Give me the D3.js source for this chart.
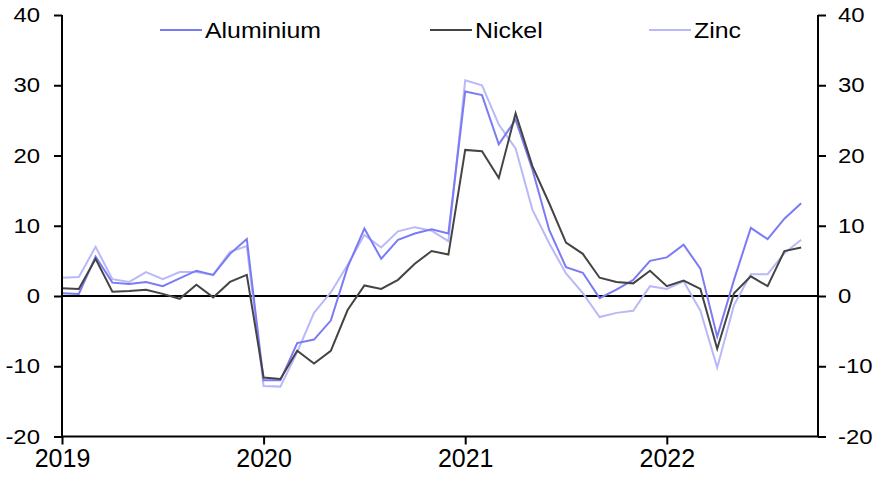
<!DOCTYPE html>
<html>
<head>
<meta charset="utf-8">
<script src="https://cdn.jsdelivr.net/npm/d3@7"></script>
<style>
  html, body { margin: 0; padding: 0; background: #fff; }
  text { font-family: "Liberation Sans", Arial, sans-serif; fill: #000; }
</style>
</head>
<body>
<svg id="chart" width="878" height="481"></svg>
<script>
// Monthly data, Jan 2019 .. Sep 2022 (% y/y)
const months = d3.range(45); // index 0 = Jan 2019
const aluminium = [0.4, 0.3, 5.6, 1.9, 1.7, 2.0, 1.4, 2.5, 3.6, 3.0, 6.0, 8.1,
  -12.0, -12.0, -6.7, -6.2, -3.5, 4.1, 9.6, 5.3, 8.0, 8.9, 9.5, 8.9,
  29.1, 28.6, 21.6, 25.1, 18.0, 9.4, 4.1, 3.3, -0.3, 0.9, 2.3, 5.0,
  5.5, 7.3, 3.9, -5.8, 2.3, 9.7, 8.1, 11.0, 13.2];
const nickel = [1.1, 1.0, 5.3, 0.6, 0.7, 0.9, 0.3, -0.4, 1.6, -0.2, 2.0, 3.0,
  -11.6, -11.8, -7.8, -9.6, -7.8, -2.0, 1.5, 1.0, 2.3, 4.6, 6.4, 5.9,
  20.8, 20.6, 16.8, 26.0, 18.5, 13.2, 7.6, 6.0, 2.6, 2.0, 1.8, 3.6,
  1.4, 2.2, 1.0, -7.5, 0.4, 2.8, 1.4, 6.4, 6.9];
const zinc = [2.6, 2.7, 7.0, 2.4, 2.0, 3.4, 2.4, 3.4, 3.4, 3.0, 6.3, 7.1,
  -12.8, -12.9, -8.0, -2.4, 0.5, 4.4, 8.7, 6.9, 9.2, 9.8, 9.3, 7.8,
  30.7, 30.0, 24.4, 21.0, 12.3, 7.5, 3.2, 0.4, -3.0, -2.4, -2.1, 1.4,
  1.0, 2.1, -2.1, -10.2, -1.3, 3.1, 3.1, 6.1, 8.0];
const seriesNames = ["Aluminium", "Nickel", "Zinc"];
const seriesColors = ["#7b7bf5", "#444444", "#b9b9f9"];
const yTicks = [-20, -10, 0, 10, 20, 30, 40];
const xTickIndex = [0, 12, 24, 36];
const xTickLabels = ["2019", "2020", "2021", "2022"];

const svg = d3.select("#chart");
const pLeft = 62, pRight = 818, pTop = 15, pBottom = 436.5;

const x = d3.scaleLinear().domain([0, 45]).range([pLeft, pRight]);
const y = d3.scaleLinear().domain([-20, 40]).range([pBottom, pTop]);

// stretch text horizontally (reference glyphs are wider than tall)
function stretch(sel, f) {
  sel.each(function () {
    const w = this.getComputedTextLength();
    d3.select(this).attr("textLength", w * f).attr("lengthAdjust", "spacingAndGlyphs");
  });
}

// zero line
svg.append("line")
  .attr("x1", pLeft).attr("x2", pRight)
  .attr("y1", y(0)).attr("y2", y(0))
  .attr("stroke", "#000").attr("stroke-width", 2);

// series
const data = [aluminium, nickel, zinc];
const line = d3.line().x((d, i) => x(months[i])).y(d => y(d));
const order = [2, 0, 1];
order.forEach(k => {
  svg.append("path")
    .datum(data[k])
    .attr("d", line)
    .attr("fill", "none")
    .attr("stroke", seriesColors[k])
    .attr("stroke-width", 2)
    .attr("stroke-linejoin", "miter");
});

// axes
const fmt = d => String(d);
const leftAxis = d3.axisLeft(y).tickValues(yTicks).tickSize(8).tickPadding(14).tickFormat(fmt);
const gl = svg.append("g").attr("transform", `translate(${pLeft},0)`).call(leftAxis);
const rightAxis = d3.axisRight(y).tickValues(yTicks).tickSize(8).tickPadding(12).tickFormat(fmt);
const gr = svg.append("g").attr("transform", `translate(${pRight},0)`).call(rightAxis);
const bottomAxis = d3.axisBottom(x).tickValues(xTickIndex).tickSize(8).tickPadding(5)
  .tickFormat((d, i) => xTickLabels[i]);
const gb = svg.append("g").attr("transform", `translate(0,${pBottom})`).call(bottomAxis);

[gl, gr, gb].forEach(g => {
  g.select(".domain").attr("stroke", "#000").attr("stroke-width", 2);
  g.selectAll(".tick line").attr("stroke", "#000").attr("stroke-width", 2);
  g.selectAll(".tick text").attr("font-size", "21px").attr("fill", "#000")
    .style("font-family", '"Liberation Sans", Arial, sans-serif');
});
gl.select(".domain").attr("d", `M0,${pTop}V${pBottom}`);
gr.select(".domain").attr("d", `M0,${pTop}V${pBottom}`);
gb.select(".domain").attr("d", `M${pLeft},0H${pRight}`);
stretch(gl.selectAll(".tick text"), 1.14);
stretch(gr.selectAll(".tick text"), 1.14);
gb.selectAll(".tick text").attr("font-size", "25px");

// legend
const legendX = [160, 430, 649];
seriesNames.forEach((name, k) => {
  const g = svg.append("g").attr("transform", `translate(${legendX[k]},30)`);
  g.append("line").attr("x1", 0).attr("x2", 42).attr("y1", 0).attr("y2", 0)
    .attr("stroke", seriesColors[k]).attr("stroke-width", 2);
  const t = g.append("text").attr("x", 45).attr("y", 0).attr("dy", "0.35em")
    .attr("font-size", "22px").text(name);
  stretch(t, 1.13);
});
</script>
</body>
</html>
